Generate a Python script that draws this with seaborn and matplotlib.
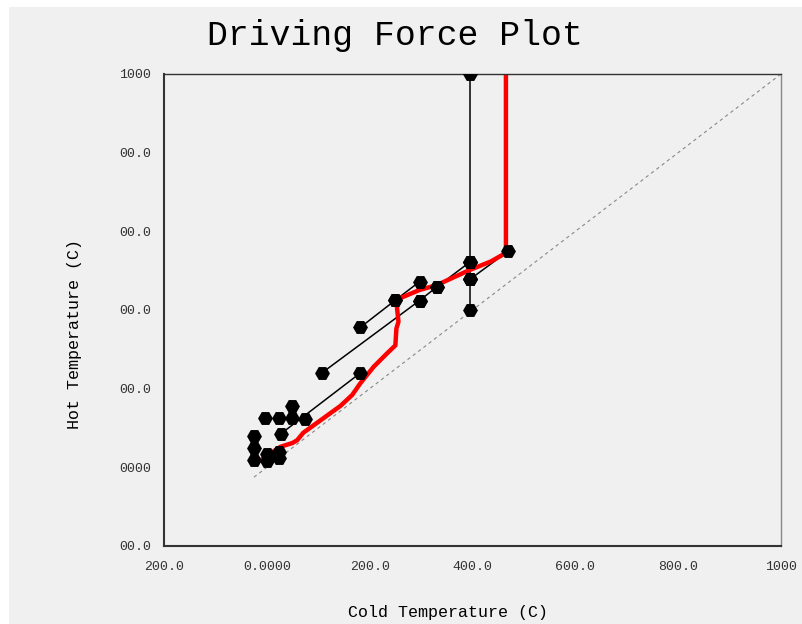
import numpy as np
import pandas as pd
import seaborn as sns
import matplotlib.pyplot as plt
from matplotlib.patches import Rectangle
from matplotlib.ticker import MultipleLocator, FixedLocator, FixedFormatter

# composite driving force curve (red)
red_cold = [-10, 26, 50, 59, 71, 107, 143, 166, 182, 208, 234, 250, 252, 256, 253, 250, 297, 330, 395, 435, 465, 465]
red_hot = [20, 52, 62, 69, 88, 122, 156, 184, 214, 256, 290, 310, 353, 370, 408, 425, 451, 463, 502, 523, 545, 1000]

# exchanger segments (black), two ends each
seg_id = [1, 1, 2, 2, 3, 3, 4, 4, 5, 5, 6, 6, 7, 7, 8, 8, 9, 9, 10, 10]
seg_cold = [395, 395, 395, 395, 395, 395, 395, 470, 107, 297, 297, 330, 330, 395, 182, 250, 250, 297, 28, 182]
seg_hot = [1000, 522, 522, 478, 478, 400, 478, 550, 240, 424, 424, 458, 458, 522, 356, 425, 425, 472, 86, 240]

# extra end points in the low temperature cluster
pt_cold = [-25, -25, -25, 0, 0, 23, 23, -3, 23, 49, 75, 49]
pt_hot = [80, 50, 18, 34, 15, 38, 24, 125, 125, 125, 124, 156]

x_ticks = [-200, 0, 200, 400, 600, 800, 1000]
x_labels = ["200.0", "0.0000", "200.0", "400.0", "600.0", "800.0", "1000"]
y_ticks = [-200, 0, 200, 400, 600, 800, 1000]
y_labels = ["00.0", "0000", "00.0", "00.0", "00.0", "00.0", "1000"]

bg = "#f0f0f0"
font = "Liberation Mono"

sns.set_style("white")
plt.rcParams['font.family'] = [font, 'DejaVu Sans']

fig = plt.figure(figsize=(8.03, 6.24), dpi=100)
fig.patch.set_facecolor("white")
fig.patches.append(Rectangle((9 / 803, 0), 1, 1 - 7 / 624, transform=fig.transFigure,
                             facecolor=bg, edgecolor="none", zorder=-10))

ax = fig.add_axes([164 / 803, 78 / 624, 617 / 803, 472 / 624])
ax.set_facecolor(bg)

# diagonal y = x
diag = pd.DataFrame({"c": [-25, 1000], "h": [-25, 1000]})
sns.lineplot(data=diag, x="c", y="h", ax=ax, color="#888888", lw=0.8, linestyle=(0, (3, 3)))

segs = pd.DataFrame({"seg": seg_id, "c": seg_cold, "h": seg_hot})
sns.lineplot(data=segs, x="c", y="h", units="seg", estimator=None, sort=False,
             ax=ax, color="black", lw=1.1)

red = pd.DataFrame({"c": red_cold, "h": red_hot})
sns.lineplot(data=red, x="c", y="h", sort=False, estimator=None, ax=ax, color="red", lw=3.2)

pts = pd.DataFrame({"c": seg_cold + pt_cold, "h": seg_hot + pt_hot})
sns.scatterplot(data=pts, x="c", y="h", ax=ax, marker="H", s=115, color="black",
                edgecolor="black", linewidth=0, zorder=5)
for coll in ax.collections:
    coll.set_clip_on(True)
    coll.set_clip_box(ax.bbox)

ax.set_xlim(-200, 1000)
ax.set_ylim(-200, 1000)

ax.xaxis.set_major_locator(FixedLocator(x_ticks))
ax.xaxis.set_major_formatter(FixedFormatter(x_labels))
ax.yaxis.set_major_locator(FixedLocator(y_ticks))
ax.yaxis.set_major_formatter(FixedFormatter(y_labels))
ax.xaxis.set_minor_locator(MultipleLocator(20))
ax.yaxis.set_minor_locator(MultipleLocator(20))
ax.tick_params(axis="both", which="major", direction="out", length=6, width=1, color="#333333",
               labelsize=9.5, labelcolor="#333333")
ax.tick_params(axis="both", which="minor", direction="out", length=4, width=0.8, color="#555555")
ax.tick_params(axis="x", which="major", pad=5)
ax.tick_params(axis="y", which="major", pad=3)
for t in ax.get_xticklabels() + ax.get_yticklabels():
    t.set_family(font)

ax.set_xlabel("")
ax.set_ylabel("")
for side in ["left", "bottom"]:
    ax.spines[side].set_color("#333333")
    ax.spines[side].set_linewidth(1.5)
ax.spines["top"].set_color("#333333")
ax.spines["top"].set_linewidth(1)
ax.spines["right"].set_color("#888888")
ax.spines["right"].set_linewidth(1)

fig.text(395 / 803, 1 - 36 / 624, "Driving Force Plot", ha="center", va="center",
         fontsize=25, family=font, color="black")
fig.text(448 / 803, 1 - 613 / 624, "Cold Temperature (C)", ha="center", va="center",
         fontsize=12, family=font, color="black")
fig.text(75 / 803, 1 - 334 / 624, "Hot Temperature (C)", ha="center", va="center",
         rotation=90, fontsize=12, family=font, color="black")

fig.savefig("out.png", dpi=100, facecolor=fig.get_facecolor())
